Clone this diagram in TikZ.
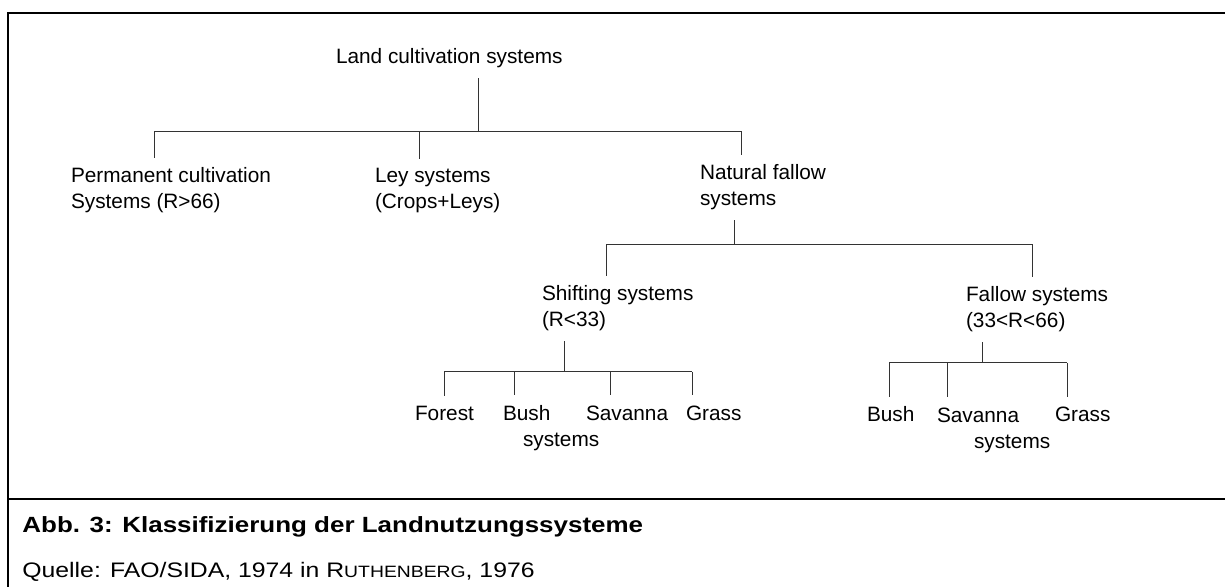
\documentclass[tikz,border=0pt]{standalone}
\usepackage{fontspec}
\setmainfont{Liberation Sans}
\newfontfamily\capfont[FakeStretch=1.18]{Liberation Sans}

\begin{document}
\begin{tikzpicture}[x=0.5pt,y=-0.5pt,
  lbl/.style={inner sep=0pt,outer sep=5pt,anchor=base west,align=left,
    font=\fontsize{10.4pt}{13pt}\selectfont},
  conn/.style={line width=0.5pt,black!80},
  frame/.style={line width=1.3pt}]
\useasboundingbox (0,0) rectangle (1225,587);
\draw[frame] (8,587) -- (8,13) -- (1225,13);
\draw[frame] (8,499) -- (1225,499);

\node[lbl] (land) at (326,64) {Land cultivation systems};
\node[lbl] (perm) at (61,209) {Permanent cultivation\\Systems (R>66)};
\node[lbl] (ley) at (365,209) {Ley systems\\(Crops+Leys)};
\node[lbl] (nat) at (690,206) {Natural fallow\\systems};
\node[lbl] (shift) at (532,327) {Shifting systems\\(R<33)};
\node[lbl] (fallow) at (956,328) {Fallow systems\\(33<R<66)};
\node[lbl] (forest) at (405,420) {Forest};
\node[lbl] (bush1) at (493,446) {Bush\\\hspace*{10pt}systems};
\node[lbl] (sav1) at (576,420) {Savanna};
\node[lbl] (grass1) at (676,420) {Grass};
\node[lbl] (bush2) at (857,422) {Bush};
\node[lbl] (sav2) at (927,448) {Savanna\\\hspace*{18.5pt}systems};
\node[lbl] (grass2) at (1045,422) {Grass};

\coordinate (land-j) at (478,132);
\coordinate (perm-j) at (154,132);
\coordinate (ley-j) at (419,132);
\coordinate (nat-j) at (741,132);
\draw[conn] (land.south -| land-j) -- (land-j);
\draw[conn] (perm.north -| perm-j) -- (perm-j) -- (nat-j) -- (nat.north -| nat-j);
\draw[conn] (ley-j) -- (ley.north -| ley-j);

\coordinate (nat-k) at (734,245);
\coordinate (shift-j) at (606,245);
\coordinate (fallow-j) at (1032,245);
\draw[conn] (nat.south -| nat-k) -- (nat-k);
\draw[conn] (shift.north -| shift-j) -- (shift-j) -- (fallow-j) -- (fallow.north -| fallow-j);

\coordinate (shift-k) at (564,372);
\draw[conn] (shift.south -| shift-k) -- (shift-k);
\foreach \n/\x in {forest/444,bush1/514,sav1/610,grass1/692}
  \draw[conn] (\x,372) coordinate (\n-j) -- (\n.north -| \n-j);
\draw[conn] (forest-j) -- (grass1-j);

\coordinate (fallow-k) at (982,363);
\draw[conn] (fallow.south -| fallow-k) -- (fallow-k);
\foreach \n/\x in {bush2/889,sav2/947,grass2/1067}
  \draw[conn] (\x,363) coordinate (\n-j) -- (\n.north -| \n-j);
\draw[conn] (bush2-j) -- (grass2-j);

\node[inner sep=0pt,anchor=base west,font=\capfont\bfseries\fontsize{11pt}{12pt}\selectfont]
  (cap) at (22,532) {Abb. 3: Klassifizierung der Landnutzungssysteme};
\node[inner sep=0pt,anchor=base west,font=\capfont\fontsize{10.5pt}{12pt}\selectfont]
  (src) at (22,577) {Quelle: FAO/SIDA, 1974 in R{\fontsize{8.2pt}{8pt}\selectfont UTHENBERG}, 1976};
\end{tikzpicture}
\end{document}
